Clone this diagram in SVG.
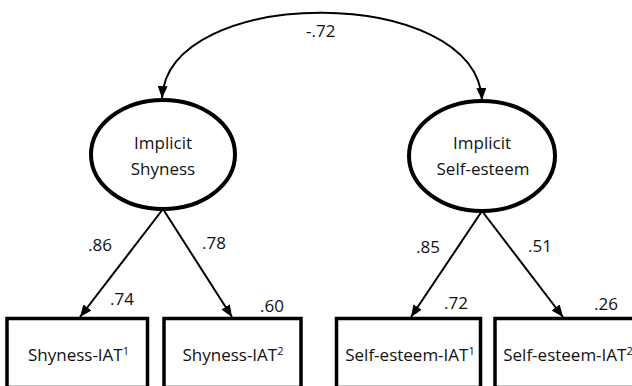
<svg xmlns="http://www.w3.org/2000/svg" width="632" height="386" viewBox="0 0 632 386">
<style>
text{font-family:"Open Sans","Liberation Sans",sans-serif;font-size:17px;fill:#111}
.c{text-anchor:middle}
.sup{font-size:11px}
.latent{fill:#fff;stroke:#000;stroke-width:4}
.obs{fill:#fff;stroke:#000;stroke-width:3.5}
.path{fill:none;stroke:#000;stroke-width:2}
</style>
<defs>
<marker id="ah" viewBox="0 0 12 10" refX="12" refY="5" markerWidth="12" markerHeight="10" markerUnits="userSpaceOnUse" orient="auto-start-reverse">
<path d="M0,0 L12,5 L0,10 z" fill="#000"/>
</marker>
</defs>
<rect width="632" height="386" fill="#fff"/>
<g id="connectors">
<path class="path" d="M162,98 C168,-16 476,-16 482,100" marker-start="url(#ah)" marker-end="url(#ah)"/>
<path class="path" d="M163,209 L80,317" marker-end="url(#ah)"/>
<path class="path" d="M163,209 L232,317" marker-end="url(#ah)"/>
<path class="path" d="M482,211 L411,317" marker-end="url(#ah)"/>
<path class="path" d="M482,211 L563,317" marker-end="url(#ah)"/>
<text x="306" y="37">-.72</text>
<text x="88" y="250.5">.86</text>
<text x="202" y="249">.78</text>
<text x="416" y="252.5">.85</text>
<text x="528" y="251.5">.51</text>
<text x="110" y="305">.74</text>
<text x="260" y="312">.60</text>
<text x="444" y="309">.72</text>
<text x="594" y="310">.26</text>
</g>
<g id="implicit-shyness">
<ellipse class="latent" cx="163" cy="154.5" rx="72" ry="54.5"/>
<text class="c" x="163" y="149">Implicit</text>
<text class="c" x="163" y="175">Shyness</text>
</g>
<g id="implicit-self-esteem">
<ellipse class="latent" cx="482" cy="156" rx="73" ry="55"/>
<text class="c" x="482" y="149">Implicit</text>
<text class="c" x="483" y="175">Self-esteem</text>
</g>
<g id="shyness-iat1">
<rect class="obs" x="7" y="318.5" width="140.5" height="69"/>
<text class="c" x="78.5" y="361">Shyness-IAT<tspan class="sup" dy="-6">1</tspan></text>
</g>
<g id="shyness-iat2">
<rect class="obs" x="164" y="318.5" width="137" height="69"/>
<text class="c" x="233" y="361">Shyness-IAT<tspan class="sup" dy="-6">2</tspan></text>
</g>
<g id="self-esteem-iat1">
<rect class="obs" x="336.5" y="318.5" width="144" height="69"/>
<text class="c" x="410" y="361">Self-esteem-IAT<tspan class="sup" dy="-6">1</tspan></text>
</g>
<g id="self-esteem-iat2">
<rect class="obs" x="495" y="318.5" width="146" height="69"/>
<text class="c" x="568" y="361">Self-esteem-IAT<tspan class="sup" dy="-6">2</tspan></text>
</g>
</svg>
